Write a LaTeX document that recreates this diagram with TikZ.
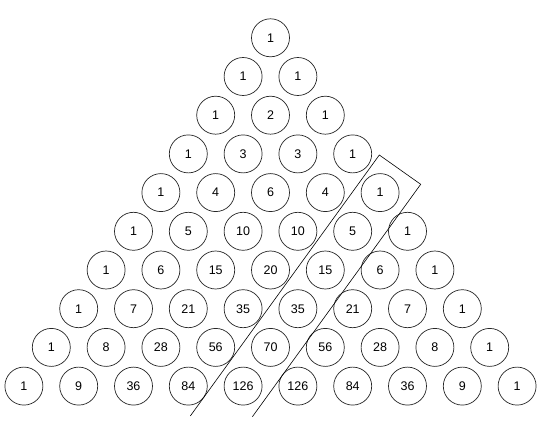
\documentclass[tikz,border=0pt]{standalone}
\usepackage{fontspec}
\setmainfont{Liberation Sans}
\usepackage{tikz}

\begin{document}
\begin{tikzpicture}[x=1pt, y=-1pt]
\useasboundingbox (0,0) rectangle (554,430);

\tikzset{NumStyle/.style = {
 shape = circle,
 draw = black!85,
 line width = 0.7pt,
 text = black,
 font = \fontsize{12.5}{14}\selectfont,
 inner sep = 0pt,
 minimum size = 38pt} }

\node[NumStyle] (P0_0) at (270.5, 37.8) {1};

\node[NumStyle] (P1_0) at (243.1, 76.5) {1};
\node[NumStyle] (P1_1) at (297.9, 76.5) {1};

\node[NumStyle] (P2_0) at (215.7, 115.2) {1};
\node[NumStyle] (P2_1) at (270.5, 115.2) {2};
\node[NumStyle] (P2_2) at (325.3, 115.2) {1};

\node[NumStyle] (P3_0) at (188.3, 153.9) {1};
\node[NumStyle] (P3_1) at (243.1, 153.9) {3};
\node[NumStyle] (P3_2) at (297.9, 153.9) {3};
\node[NumStyle] (P3_3) at (352.7, 153.9) {1};

\node[NumStyle] (P4_0) at (160.9, 192.6) {1};
\node[NumStyle] (P4_1) at (215.7, 192.6) {4};
\node[NumStyle] (P4_2) at (270.5, 192.6) {6};
\node[NumStyle] (P4_3) at (325.3, 192.6) {4};
\node[NumStyle] (P4_4) at (380.1, 192.6) {1};

\node[NumStyle] (P5_0) at (133.5, 231.3) {1};
\node[NumStyle] (P5_1) at (188.3, 231.3) {5};
\node[NumStyle] (P5_2) at (243.1, 231.3) {10};
\node[NumStyle] (P5_3) at (297.9, 231.3) {10};
\node[NumStyle] (P5_4) at (352.7, 231.3) {5};
\node[NumStyle] (P5_5) at (407.5, 231.3) {1};

\node[NumStyle] (P6_0) at (106.1, 270.0) {1};
\node[NumStyle] (P6_1) at (160.9, 270.0) {6};
\node[NumStyle] (P6_2) at (215.7, 270.0) {15};
\node[NumStyle] (P6_3) at (270.5, 270.0) {20};
\node[NumStyle] (P6_4) at (325.3, 270.0) {15};
\node[NumStyle] (P6_5) at (380.1, 270.0) {6};
\node[NumStyle] (P6_6) at (434.9, 270.0) {1};

\node[NumStyle] (P7_0) at (78.7, 308.7) {1};
\node[NumStyle] (P7_1) at (133.5, 308.7) {7};
\node[NumStyle] (P7_2) at (188.3, 308.7) {21};
\node[NumStyle] (P7_3) at (243.1, 308.7) {35};
\node[NumStyle] (P7_4) at (297.9, 308.7) {35};
\node[NumStyle] (P7_5) at (352.7, 308.7) {21};
\node[NumStyle] (P7_6) at (407.5, 308.7) {7};
\node[NumStyle] (P7_7) at (462.3, 308.7) {1};

\node[NumStyle] (P8_0) at (51.3, 347.4) {1};
\node[NumStyle] (P8_1) at (106.1, 347.4) {8};
\node[NumStyle] (P8_2) at (160.9, 347.4) {28};
\node[NumStyle] (P8_3) at (215.7, 347.4) {56};
\node[NumStyle] (P8_4) at (270.5, 347.4) {70};
\node[NumStyle] (P8_5) at (325.3, 347.4) {56};
\node[NumStyle] (P8_6) at (380.1, 347.4) {28};
\node[NumStyle] (P8_7) at (434.9, 347.4) {8};
\node[NumStyle] (P8_8) at (489.7, 347.4) {1};

\node[NumStyle] (P9_0) at (23.9, 386.1) {1};
\node[NumStyle] (P9_1) at (78.7, 386.1) {9};
\node[NumStyle] (P9_2) at (133.5, 386.1) {36};
\node[NumStyle] (P9_3) at (188.3, 386.1) {84};
\node[NumStyle] (P9_4) at (243.1, 386.1) {126};
\node[NumStyle] (P9_5) at (297.9, 386.1) {126};
\node[NumStyle] (P9_6) at (352.7, 386.1) {84};
\node[NumStyle] (P9_7) at (407.5, 386.1) {36};
\node[NumStyle] (P9_8) at (462.3, 386.1) {9};
\node[NumStyle] (P9_9) at (517.1, 386.1) {1};


\coordinate (B_1) at (190.3, 416.0);
\coordinate (B_2) at (379.3, 155.0);
\coordinate (B_3) at (420.7, 184.3);
\coordinate (B_4) at (252.4, 416.7);

\tikzset{BoxStyle/.style = {draw = black, line width = 0.6pt} }

\draw[BoxStyle] (B_1) -- (B_2) -- (B_3) -- (B_4);

\end{tikzpicture}
\end{document}
